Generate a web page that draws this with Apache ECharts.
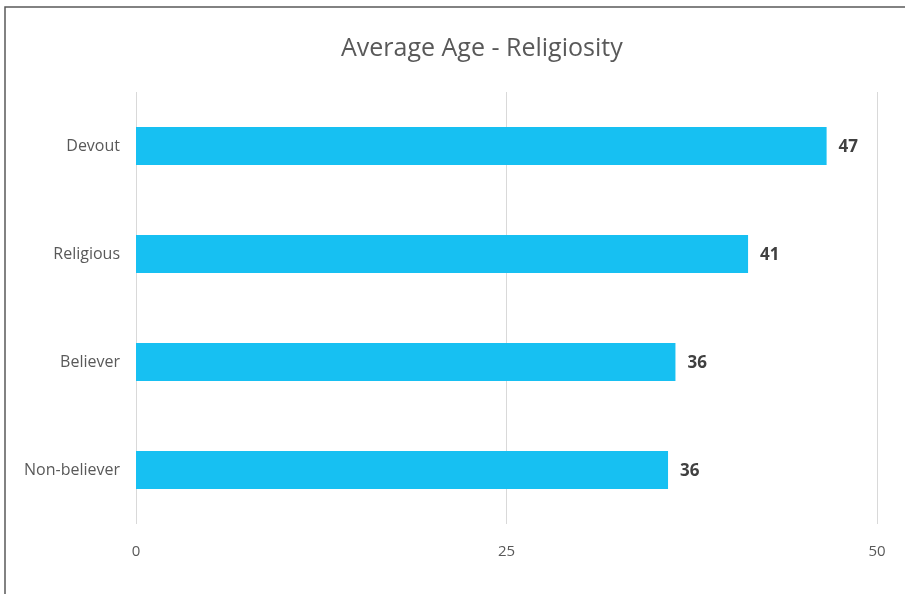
<!DOCTYPE html>
<html>
<head>
<meta charset="utf-8">
<script src="https://cdn.jsdelivr.net/npm/echarts@6/dist/echarts.min.js"></script>
<style>
html,body{margin:0;padding:0;background:#fff;}
#c{width:905px;height:594px;}
</style>
</head>
<body>
<div id="c"></div>
<script>
const categories = ["Devout", "Religious", "Believer", "Non-believer"];
const values = [46.6, 41.3, 36.4, 35.9];
const xTicks = [0, 25, 50];

const chart = echarts.init(document.getElementById('c'), null, {renderer: 'canvas'});
chart.setOption({
  backgroundColor: '#ffffff',
  animation: false,
  graphic: [{
    type: 'rect',
    shape: {x: 5, y: 7, width: 1000, height: 700},
    style: {fill: 'none', stroke: '#595959', lineWidth: 1.5},
    silent: true
  }],
  title: {
    text: 'Average Age - Religiosity',
    left: 336,
    top: 31,
    textStyle: {fontFamily: 'Open Sans', fontSize: 25, fontWeight: 'normal', color: '#595959'}
  },
  grid: {left: 136, right: 28, top: 92, bottom: 70, containLabel: false},
  xAxis: {
    type: 'value',
    min: xTicks[0],
    max: xTicks[xTicks.length - 1],
    interval: xTicks[1] - xTicks[0],
    axisLine: {show: false},
    axisTick: {show: false},
    splitLine: {show: true, lineStyle: {color: '#d9d9d9', width: 1}},
    axisLabel: {margin: 20, fontFamily: 'Open Sans', fontSize: 15, color: '#595959'}
  },
  yAxis: {
    type: 'category',
    inverse: true,
    data: categories,
    axisLine: {show: false},
    axisTick: {show: false},
    axisLabel: {margin: 16, fontFamily: 'Open Sans', fontSize: 16, color: '#595959'}
  },
  series: [{
    type: 'bar',
    data: values,
    barWidth: '35%',
    itemStyle: {color: '#17c0f2'},
    label: {
      show: true,
      position: 'right',
      distance: 12,
      offset: [0, 1],
      formatter: p => Math.round(p.value),
      fontFamily: 'Open Sans',
      fontSize: 17,
      fontWeight: 'bold',
      color: '#404040'
    }
  }]
});
</script>
</body>
</html>
